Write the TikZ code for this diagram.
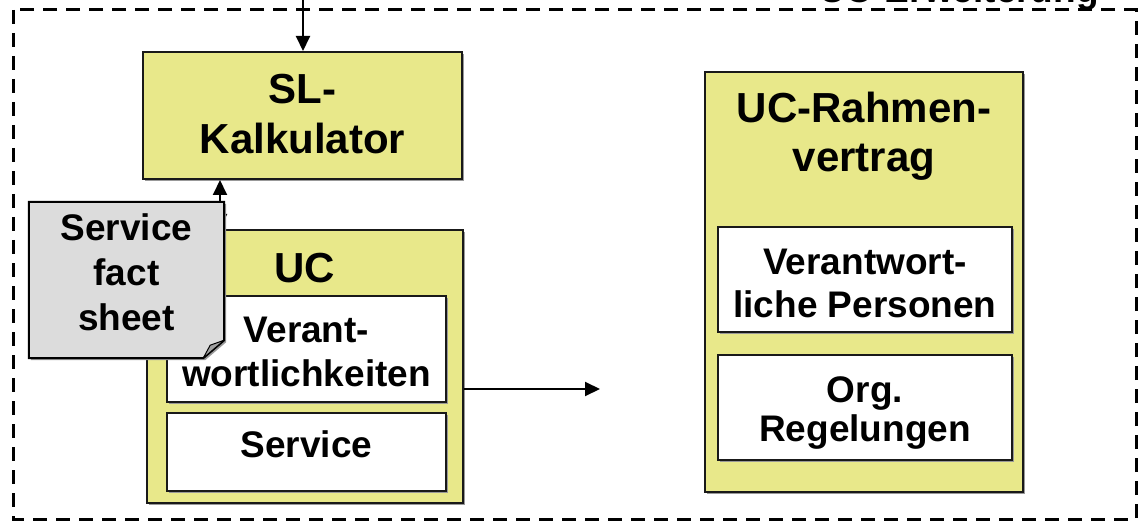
\documentclass[tikz,border=0pt]{standalone}
\usepackage{fontspec}
\setmainfont{Liberation Sans}
\usetikzlibrary{arrows.meta,shadows}
\definecolor{boxyellow}{RGB}{232,232,138}
\definecolor{notegray}{RGB}{220,220,220}
\definecolor{foldgray}{RGB}{160,160,160}

\begin{document}
\begin{tikzpicture}[x=1pt,y=-1pt,
  big/.style={font=\bfseries\fontsize{42}{50}\selectfont, align=center, inner sep=0pt},
  small/.style={font=\bfseries\fontsize{37}{45}\selectfont, align=center, inner sep=0pt},
  boxshadow/.style={general shadow={fill=black!40, shadow xshift=2pt, shadow yshift=-2pt}},
  panel/.style={draw=black!90, line width=2pt, fill=boxyellow, inner sep=0pt, boxshadow},
  slot/.style={draw=black!90, line width=2pt, fill=white, inner sep=0pt, boxshadow},
  link/.style={line width=2pt, -{Triangle[length=15pt,width=14pt]}},
  both/.style={line width=2pt, {Triangle[length=15pt,width=14pt]}-{Triangle[length=15pt,width=14pt]}},
]
\clip (0,0) rectangle (1142,521);
\fill[white] (0,0) rectangle (1142,521);

% outer dashed frame and its (partly cut) title
\draw[line width=3pt, dash pattern=on 14pt off 9pt] (13,10) rectangle (1136,519);
\node[small, anchor=base east] (ext) at (1099,3) {UC-Erweiterung};

% SL calculator
\node[panel, minimum width=319pt, minimum height=127pt] (sl) at (302.5,115.5) {};
\node[big] (sltext) at (302.5,114.5) {SL-\\Kalkulator};
\coordinate (topin) at (303,0);
\draw[link] (topin) -- (sl.north -| topin);

% UC block
\node[panel, minimum width=316pt, minimum height=273pt] (uc) at (305,366.5) {};
\node[big] (uctitle) at (305,268) {UC};
\node[slot, minimum width=279pt, minimum height=106pt] (resp) at (306.5,349) {};
\node[small, font=\bfseries\fontsize{37}{44}\selectfont] (resptext) at (306.5,351.5)
  {Verant-\\wortlichkeiten};
\node[slot, minimum width=279pt, minimum height=78pt] (svc) at (306.5,452) {};
\node[small] (svctext) at (306.5,444.5) {Service};

% link between calculator and UC
\coordinate (dblx) at (220,0);
\draw[both] (sl.south -| dblx) -- (uc.north -| dblx);

% arrow towards the framework contract
\coordinate (rtip) at (600,389);
\draw[link] (uc.east |- rtip) -- (rtip);

% UC framework contract
\node[panel, minimum width=318pt, minimum height=420pt] (rv) at (864,282) {};
\node[big, font=\bfseries\fontsize{42}{49}\selectfont] (rvtitle) at (864,136.5)
  {UC-Rahmen-\\vertrag};
\node[slot, minimum width=294pt, minimum height=105pt] (pers) at (865,279.5) {};
\node[small, font=\bfseries\fontsize{37}{43}\selectfont] (perstext) at (865,283.5)
  {Verantwort-\\liche Personen};
\node[slot, minimum width=294pt, minimum height=105pt] (org) at (865,407.5) {};
\node[small, font=\bfseries\fontsize{37}{39}\selectfont] (orgtext) at (865,413)
  {Org.\\Regelungen};

% service fact sheet note with folded corner
\node[minimum width=195pt, minimum height=156pt, inner sep=0pt] (note) at (126.5,280) {};
\fill[black!40] ([xshift=2pt,yshift=-2pt]note.north west) -- ([xshift=2pt,yshift=-2pt]note.north east)
  -- ([xshift=2pt,yshift=16pt]note.south east) -- ([xshift=-19pt,yshift=-2pt]note.south east)
  -- ([xshift=2pt,yshift=-2pt]note.south west) -- cycle;
\draw[line width=2pt, fill=notegray, line join=miter]
  (note.north west) -- (note.north east) -- ([yshift=18pt]note.south east)
  -- ([xshift=-21pt]note.south east) -- (note.south west) -- cycle;
\draw[line width=1pt, fill=foldgray, line join=round]
  ([yshift=18pt]note.south east) -- ([xshift=-21pt]note.south east)
  -- ([xshift=-14pt,yshift=13pt]note.south east) -- cycle;
\node[small] (notetext) at (126.5,272) {Service\\fact\\sheet};
\end{tikzpicture}
\end{document}
